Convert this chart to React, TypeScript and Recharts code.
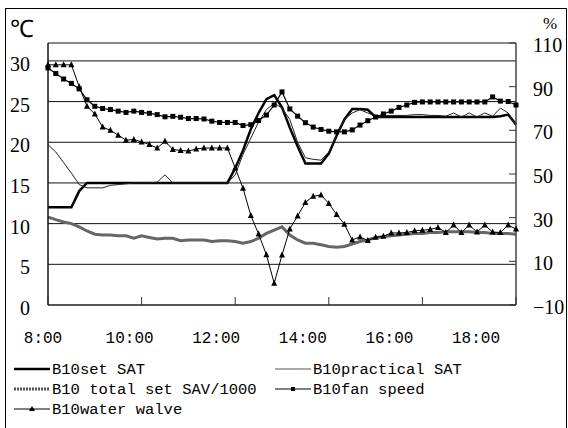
import React from 'react';
import { LineChart, Line, XAxis, YAxis, CartesianGrid, Legend } from 'recharts';

// sampled every 10 minutes, 8:00 .. 18:00
const times = [
  '8:00', '8:10', '8:20', '8:30', '8:40', '8:50',
  '9:00', '9:10', '9:20', '9:30', '9:40', '9:50',
  '10:00', '10:10', '10:20', '10:30', '10:40', '10:50',
  '11:00', '11:10', '11:20', '11:30', '11:40', '11:50',
  '12:00', '12:10', '12:20', '12:30', '12:40', '12:50',
  '13:00', '13:10', '13:20', '13:30', '13:40', '13:50',
  '14:00', '14:10', '14:20', '14:30', '14:40', '14:50',
  '15:00', '15:10', '15:20', '15:30', '15:40', '15:50',
  '16:00', '16:10', '16:20', '16:30', '16:40', '16:50',
  '17:00', '17:10', '17:20', '17:30', '17:40', '17:50',
  '18:00',
];

// °C, left axis
const setSAT = [
  12, 12, 12, 12, 14.0, 15,
  15, 15, 15, 15, 15, 15,
  15, 15, 15, 15, 15, 15,
  15, 15, 15, 15, 15, 15,
  16.8, 19.0, 21.6, 23.6, 25.3, 25.8,
  24.3, 21.8, 19.5, 17.4, 17.4, 17.4,
  18.6, 20.8, 22.8, 24.1, 24.1, 24.0,
  23.1, 23.1, 23.1, 23.1, 23.1, 23.1,
  23.1, 23.1, 23.1, 23.1, 23.1, 23.1,
  23.1, 23.1, 23.1, 23.1, 23.2, 23.4,
  22.2,
];

const practicalSAT = [
  19.7, 18.8, 17.5, 16.2, 14.8, 14.4,
  14.4, 14.4, 14.7, 14.8, 14.9, 15.0,
  15.0, 15.0, 15.1, 16.0, 15.0, 15.0,
  15.0, 15.0, 15.0, 15.0, 15.0, 15.0,
  16.0, 18.5, 20.5, 22.5, 24.0, 24.8,
  24.2, 22.8, 20.0, 18.1, 17.9, 17.8,
  18.8, 20.8, 22.8, 23.6, 24.0, 23.6,
  23.2, 23.3, 23.3, 23.3, 23.3, 23.4,
  23.4, 23.3, 23.3, 23.2, 23.6, 23.1,
  23.6, 23.1, 23.6, 23.2, 24.2, 23.6,
  22.0,
];

const totalSAV = [
  10.8, 10.5, 10.2, 10.0, 9.6, 9.1,
  8.7, 8.6, 8.6, 8.5, 8.5, 8.2,
  8.5, 8.3, 8.1, 8.2, 8.2, 7.9,
  8.0, 8.0, 8.0, 7.8, 7.9, 7.9,
  7.8, 7.6, 7.8, 8.2, 8.8, 9.2,
  9.6, 8.6, 8.0, 7.6, 7.6, 7.4,
  7.2, 7.1, 7.2, 7.5, 7.8, 8.0,
  8.3, 8.4, 8.5, 8.6, 8.7, 8.8,
  8.8, 8.9, 8.9, 9.0, 9.0, 9.0,
  9.0, 8.9, 8.9, 8.8, 8.8, 8.8,
  8.7,
];

// %, right axis
const fanSpeed = [
  98.6, 96, 93.5, 91.5, 89, 84,
  81, 80, 79.5, 78.8, 78.2, 78.8,
  78.2, 77.8, 77.2, 76.2, 76.4, 76,
  75.4, 75.4, 75.2, 74.2, 73.6, 73.6,
  73.6, 72.2, 72.6, 74.5, 77, 81.6,
  87.6, 79.8, 76.5, 73.5, 71.5, 70.4,
  69.6, 69.3, 69.3, 70.2, 72.4, 74.4,
  76.1, 77.5, 78.8, 80.5, 81.6, 82.8,
  83, 83, 83, 83, 83, 83,
  83, 83, 83, 85.3, 83.4, 83.2,
  81.6,
];

const waterValve = [
  100, 100, 100, 100, 90, 81,
  77.5, 71.5, 70, 67.8, 65.5, 65.8,
  64.7, 63.5, 61.9, 65, 61.2, 60.8,
  60.5, 61.5, 61.9, 61.9, 61.9, 61.9,
  52.8, 43.5, 31, 22.5, 13, 0,
  12.9, 24.8, 30.8, 37, 39.8, 40.4,
  36.5, 31.5, 27, 19.8, 21.2, 19.5,
  21, 21.5, 23, 23, 23.2, 24,
  24.2, 24.6, 25.5, 23.2, 26.6, 23.2,
  26.6, 23.4, 26.6, 23.4, 23.2, 26.6,
  24.8,
];

const xTicks = ['8:00', '10:00', '12:00', '14:00', '16:00', '18:00'];
const leftTicks = [0, 5, 10, 15, 20, 25, 30];
const rightTicks = [-10, 10, 30, 50, 70, 90, 110];

const data = times.map((time, i) => ({
  time,
  setSAT: setSAT[i],
  practicalSAT: practicalSAT[i],
  totalSAV: totalSAV[i],
  fanSpeed: fanSpeed[i],
  waterValve: waterValve[i],
}));

const SERIF = '"Times New Roman", "Liberation Serif", Tinos, serif';
const MONO = '"Courier New", "Liberation Mono", Cousine, monospace';

const XTick = (props: any) => {
  const { x, y, payload, index } = props;
  // the time labels in the source sit on a slightly tighter pitch than the ticks
  const lx = 43 + index * 86.6;
  return (
    <g>
      <line x1={x} y1={y} x2={x} y2={y - 8} stroke="#333" />
      <text x={lx} y={y + 38} textAnchor="middle" style={{ fontFamily: MONO, fontSize: 16 }} fill="#000">
        {payload.value}
      </text>
    </g>
  );
};

const LeftTick = (props: any) => {
  const { x, y, payload } = props;
  return (
    <text x={x} y={y + 10} textAnchor="end" style={{ fontFamily: SERIF, fontSize: 20 }} fill="#000">
      {payload.value}
    </text>
  );
};

const RightTick = (props: any) => {
  const { x, y, payload } = props;
  const v = payload.value;
  return (
    <g>
      <line x1={x - 17} y1={y} x2={x - 24} y2={y} stroke="#333" />
      <text x={x} y={y + 9} textAnchor="start" style={{ fontFamily: SERIF, fontSize: 20 }} fill="#000">
        {v < 0 ? '\u2212' + Math.abs(v) : v}
      </text>
    </g>
  );
};

const SquareDot = (props: any) => {
  const { cx, cy, index } = props;
  if (cx == null || cy == null) return <g key={`sq-${index}`} />;
  return <rect key={`sq-${index}`} x={cx - 2.5} y={cy - 2.5} width={5} height={5} fill="#000" />;
};

const TriangleDot = (props: any) => {
  const { cx, cy, index } = props;
  if (cx == null || cy == null) return <g key={`tr-${index}`} />;
  return (
    <path
      key={`tr-${index}`}
      d={`M${cx},${cy - 3.5} L${cx + 3},${cy + 2.5} L${cx - 3},${cy + 2.5} Z`}
      fill="#000"
    />
  );
};

// legend grid: two columns, three rows
const legendSlots: Record<string, [number, number]> = {
  setSAT: [14, 14],
  practicalSAT: [275, 14],
  totalSAV: [14, 34],
  fanSpeed: [275, 34],
  waterValve: [14, 54],
};

const LegendIcon = ({ k, x, y }: { k: string; x: number; y: number }) => {
  if (k === 'setSAT') return <line x1={x} y1={y} x2={x + 36} y2={y} stroke="#000" strokeWidth={2.5} />;
  if (k === 'practicalSAT') return <line x1={x} y1={y} x2={x + 36} y2={y} stroke="#555" strokeWidth={1.2} />;
  if (k === 'totalSAV')
    return <line x1={x} y1={y} x2={x + 36} y2={y} stroke="#555" strokeWidth={3} strokeDasharray="2 1" />;
  if (k === 'fanSpeed')
    return (
      <g>
        <line x1={x} y1={y} x2={x + 36} y2={y} stroke="#000" strokeWidth={1} />
        <rect x={x + 16} y={y - 2} width={4} height={4} fill="#000" />
      </g>
    );
  return (
    <g>
      <line x1={x} y1={y} x2={x + 36} y2={y} stroke="#000" strokeWidth={1} />
      <path d={`M${x + 18},${y - 3} L${x + 21},${y + 2} L${x + 15},${y + 2} Z`} fill="#000" />
    </g>
  );
};

const renderLegend = (props: any) => {
  const payload = props.payload || [];
  return (
    <svg width={568} height={66}>
      {payload.map((entry: any, i: number) => {
        const [x, y] = legendSlots[entry.dataKey] || [14, 14 + i * 20];
        return (
          <g key={entry.dataKey}>
            <LegendIcon k={entry.dataKey} x={x} y={y} />
            <text x={x + 38} y={y + 5} style={{ fontFamily: MONO, fontSize: 15.5 }} fill="#000">
              {entry.value}
            </text>
          </g>
        );
      })}
    </svg>
  );
};

export default function App() {
  return (
    <div style={{ position: 'absolute', left: 0, top: 0, width: 568, height: 428, background: '#fff', overflow: 'hidden' }}>
      <div
        style={{
          position: 'absolute',
          left: 5,
          top: 8,
          width: 562,
          height: 440,
          border: '1px solid #000',
          boxSizing: 'border-box',
        }}
      />
      <div style={{ position: 'absolute', left: 0, top: 0 }}>
        <LineChart width={568} height={428} data={data} margin={{ top: 43, right: 0, bottom: 93, left: 0 }}>
          <CartesianGrid yAxisId="left" horizontal vertical={false} stroke="#111" strokeWidth={1} />
          <XAxis
            dataKey="time"
            ticks={xTicks}
            interval={0}
            height={30}
            tickSize={0}
            tickMargin={0}
            tickLine={false}
            tick={<XTick />}
            axisLine={{ stroke: '#555', strokeWidth: 2 }}
          />
          <YAxis
            yAxisId="left"
            domain={[0, 32.2]}
            ticks={leftTicks}
            allowDataOverflow
            width={48}
            tickSize={0}
            tickMargin={18}
            tickLine={false}
            tick={<LeftTick />}
            axisLine={{ stroke: '#111', strokeWidth: 1.5 }}
            label={() => (
              <text x={22} y={37} textAnchor="middle" style={{ fontFamily: SERIF, fontSize: 24 }} fill="#000">
                ℃
              </text>
            )}
          />
          <YAxis
            yAxisId="right"
            orientation="right"
            domain={[-10, 110]}
            ticks={rightTicks}
            width={52}
            tickSize={0}
            tickMargin={17}
            tickLine={false}
            tick={<RightTick />}
            axisLine={{ stroke: '#444', strokeWidth: 1.5 }}
            label={() => (
              <text x={550} y={29} textAnchor="middle" style={{ fontFamily: SERIF, fontSize: 17 }} fill="#000">
                %
              </text>
            )}
          />
          <Line
            yAxisId="left"
            dataKey="setSAT"
            name="B10set SAT"
            type="linear"
            stroke="#000"
            strokeWidth={2.5}
            dot={false}
            isAnimationActive={false}
          />
          <Line
            yAxisId="left"
            dataKey="practicalSAT"
            name="B10practical SAT"
            type="linear"
            stroke="#222"
            strokeWidth={1}
            dot={false}
            isAnimationActive={false}
          />
          <Line
            yAxisId="left"
            dataKey="totalSAV"
            name="B10 total set SAV/1000"
            type="linear"
            stroke="#666"
            strokeWidth={3}
            dot={false}
            isAnimationActive={false}
          />
          <Line
            yAxisId="right"
            dataKey="fanSpeed"
            name="B10fan speed"
            type="linear"
            stroke="#000"
            strokeWidth={1.2}
            dot={SquareDot}
            isAnimationActive={false}
          />
          <Line
            yAxisId="right"
            dataKey="waterValve"
            name="B10water walve"
            type="linear"
            stroke="#000"
            strokeWidth={1}
            dot={TriangleDot}
            isAnimationActive={false}
          />
          <Legend
            layout="vertical"
            align="center"
            verticalAlign="middle"
            content={renderLegend}
            wrapperStyle={{ left: 0, top: 355, width: 568, height: 66 }}
          />
        </LineChart>
      </div>
    </div>
  );
}
